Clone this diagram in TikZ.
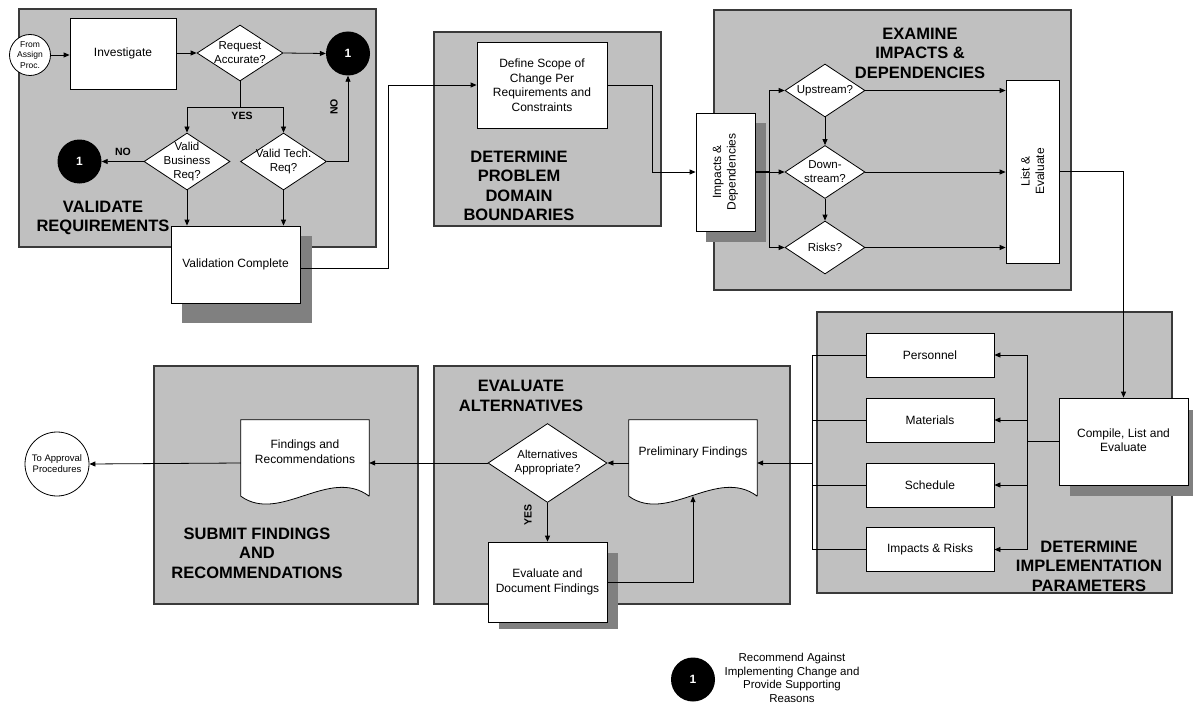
\documentclass[tikz,border=0pt]{standalone}
\usepackage{fontspec}
\setmainfont{Liberation Sans}
\usetikzlibrary{arrows.meta,shapes.geometric,calc}
\definecolor{grpfill}{HTML}{C0C0C0}
\definecolor{shadowgray}{HTML}{808080}
\definecolor{grpline}{HTML}{3A3A3A}
\newcommand{\fsz}[2]{\fontsize{#1}{#2}\selectfont}
\begin{document}
\begin{tikzpicture}[x=1pt,y=-1pt,
  grp/.style={fill=grpfill,draw=grpline,line width=1.2pt},
  shad/.style={fill=shadowgray},
  pbox/.style={draw,fill=white,line width=0.8pt,inner sep=0pt,align=center,font=\fsz{12}{14.5}},
  dia/.style={diamond,draw,fill=white,line width=0.8pt,inner sep=0pt},
  dtext/.style={inner sep=0pt,align=center,font=\fsz{11.5}{14}},
  onec/.style={circle,fill=black,text=white,minimum size=44pt,inner sep=0pt,font=\bfseries\fsz{12}{14}},
  smallc/.style={circle,draw,fill=white,line width=0.8pt,inner sep=0pt,align=center,font=\fsz{8.5}{10.5}},
  ttl/.style={align=center,inner sep=0pt,font=\bfseries\fsz{16.5}{19.5}},
  lbl/.style={inner sep=0pt,font=\bfseries\fsz{10.5}{12}},
  doc/.style={inner sep=0pt,minimum width=128pt,minimum height=76pt},
  arr/.style={-{Triangle[length=6pt,width=5pt]},line width=0.8pt},
  ln/.style={line width=0.8pt},
  thk/.style={line width=1.6pt}]
\useasboundingbox (0,0) rectangle (1193,706);

% group boxes
\draw[grp] (19,9) rectangle (376,247);
\draw[grp] (434,32) rectangle (661,226);
\draw[grp] (714,10) rectangle (1071,290);
\draw[grp] (817,312) rectangle (1172,593);
\draw[grp] (434,366) rectangle (790,604);
\draw[grp] (154,366) rectangle (418,604);

% titles
\node[ttl] (t1) at (103,218) {VALIDATE\\REQUIREMENTS};
\node[ttl] (t2) at (519,186) {DETERMINE\\PROBLEM\\DOMAIN\\BOUNDARIES};
\node[ttl] (t3) at (920,53) {EXAMINE\\IMPACTS \&\\DEPENDENCIES};
\node[ttl] (t4) at (1089,566) {DETERMINE\\IMPLEMENTATION\\PARAMETERS};
\node[ttl] (t5) at (521,396) {EVALUATE\\ALTERNATIVES};
\node[ttl] (t6) at (257,553) {SUBMIT FINDINGS\\AND\\RECOMMENDATIONS};

% shadows
\fill[shad] (182,236) rectangle (312,323);
\fill[shad] (706,123) rectangle (766,242);
\fill[shad] (1070,410) rectangle (1193,496);
\fill[shad] (499,553) rectangle (618,629);

% ---- group 1
\node[smallc,minimum size=41pt] (fa) at (30,55) {From\\Assign\\Proc.};
\node[pbox,minimum width=106pt,minimum height=71pt] (inv) at (123,53.5) {Investigate};
\node[dia,minimum width=86pt,minimum height=56pt] (ra) at (240,53) {};
\node[dtext] (rat) at (ra) {Request\\Accurate?};
\node[onec] (c1a) at (348,53.5) {1};
\node[dia,minimum width=86pt,minimum height=57pt] (vb) at (187,161.5) {};
\node[dtext] (vbt) at (vb) {Valid\\Business\\Req?};
\node[dia,minimum width=86pt,minimum height=57pt] (vt) at (283.5,161.5) {};
\node[dtext] (vtt) at (vt) {Valid Tech.\\Req?};
\node[onec] (c1b) at (79.5,161.5) {1};
\node[pbox,minimum width=129pt,minimum height=77pt] (vc) at (235.5,264.5) {Validation Complete};

% ---- group 2
\node[pbox,minimum width=130pt,minimum height=86pt,font=\fsz{12}{14.5}] (ds) at (542,85) {Define Scope of\\Change Per\\Requirements and\\Constraints};

% ---- group 3
\node[pbox,minimum width=59pt,minimum height=118pt] (imp) at (725.5,172) {};
\node[pbox,draw=none,fill=none,rotate=90] (impt) at (imp) {Impacts \&\\Dependencies};
\node[dia,minimum width=80pt,minimum height=53pt] (up) at (825,90.5) {};
\node[dtext] (upt) at (up) {Upstream?};
\node[dia,minimum width=80pt,minimum height=53pt] (dn) at (825,172) {};
\node[dtext] (dnt) at (dn) {Down-\\stream?};
\node[dia,minimum width=80pt,minimum height=53pt] (rk) at (825,247.5) {};
\node[dtext] (rkt) at (rk) {Risks?};
\node[pbox,minimum width=53pt,minimum height=183pt] (le) at (1032.5,171.5) {};
\node[pbox,draw=none,fill=none,rotate=90] (let) at (le) {List \&\\Evaluate};

% ---- group 4
\node[pbox,minimum width=128pt,minimum height=44pt] (pe) at (930,355) {Personnel};
\node[pbox,minimum width=128pt,minimum height=44pt] (ma) at (930,420) {Materials};
\node[pbox,minimum width=128pt,minimum height=44pt] (sc) at (930,485) {Schedule};
\node[pbox,minimum width=128pt,minimum height=44pt] (ir) at (930,549.5) {Impacts \& Risks};
\node[pbox,minimum width=129pt,minimum height=87pt] (ce) at (1123.5,441.5) {};
\node[pbox,draw=none,fill=none] (cet) at (1123.5,440) {Compile, List and\\Evaluate};

% ---- group 5
\node[doc] (pf) at (693,458) {};
\draw[ln,fill=white] (pf.south east) -- (pf.north east) -- (pf.north west) -- (pf.south west)
  .. controls +(39,28) and +(-40,-30) .. (pf.south east);
\node[pbox,draw=none,fill=none] (pft) at (693,452) {Preliminary Findings};
\node[dia,minimum width=119pt,minimum height=79pt] (al) at (547.5,463) {};
\node[dtext] (alt) at (al) {Alternatives\\Appropriate?};
\node[pbox,minimum width=119pt,minimum height=80pt] (ev) at (547.5,582) {Evaluate and\\Document Findings};

% ---- group 6
\node[doc] (fr) at (305,458) {};
\draw[ln,fill=white] (fr.south east) -- (fr.north east) -- (fr.north west) -- (fr.south west)
  .. controls +(39,28) and +(-40,-30) .. (fr.south east);
\node[pbox,draw=none,fill=none] (frt) at (305,451.5) {Findings and\\Recommendations};
\node[smallc,minimum size=64pt,font=\fsz{9.5}{11}] (ap) at (57,464) {To Approval\\Procedures};

% ---- legend
\node[onec] (lg) at (693,679.5) {1};
\node[align=center,inner sep=0pt,font=\fsz{11.5}{13.5}] (lgt) at (792,678) {Recommend Against\\Implementing Change and\\Provide Supporting\\Reasons};

% ---- connectors group 1
\draw[arr] (fa.east) -- (fa.east -| inv.west);
\draw[arr] (inv.east |- ra.west) -- (ra.west);
\draw[arr] (ra.east) -- (c1a.west);
\coordinate (ys) at (240,107);
\draw[ln] (ra.south) -- (ys);
\draw[arr] (ys) -| (vb.north);
\draw[arr] (ys) -| (vt.north);
\draw[arr] (vb.west) -- (c1b.east);
\draw[arr] (vt.east) -| (c1a.south);
\draw[arr] (vb.south) -- (vb.south |- vc.north);
\draw[arr] (vt.south) -- (vt.south |- vc.north);
\node[lbl] (yes1) at (242,115.5) {YES};
\node[lbl] (no1) at (123,152) {NO};
\node[lbl,rotate=90] (no2) at (334,107) {NO};

% ---- group 1 -> group 2 -> group 3
\coordinate (j1) at (388,268);
\draw[arr] (vc.east |- j1) -- (j1) |- (ds.west);
\coordinate (j2) at (652,85);
\draw[arr] (ds.east) -- (j2) |- (imp.west);

% ---- group 3
\coordinate (sp3) at (769,172);
\draw[thk] (imp.east) -- (sp3);
\draw[arr] (sp3) |- (up.west);
\draw[arr] (sp3) -- (dn.west);
\draw[arr] (sp3) |- (rk.west);
\draw[arr] (up.south) -- (dn.north);
\draw[arr] (dn.south) -- (rk.north);
\draw[arr] (up.east) -- (up.east -| le.west);
\draw[arr] (dn.east) -- (dn.east -| le.west);
\draw[arr] (rk.east) -- (rk.east -| le.west);
\draw[arr] (le.east) -| (ce.north);

% ---- group 4
\coordinate (sp4) at (1027,441.5);
\draw[thk] (ce.west) -- (sp4);
\draw[ln] (sp4 |- pe.east) -- (sp4 |- ir.east);
\draw[arr] (sp4 |- pe.east) -- (pe.east);
\draw[arr] (sp4 |- ma.east) -- (ma.east);
\draw[arr] (sp4 |- sc.east) -- (sc.east);
\draw[arr] (sp4 |- ir.east) -- (ir.east);
\coordinate (b4) at (812,463);
\draw[ln] (b4 |- pe.west) -- (b4 |- ir.west);
\draw[ln] (pe.west) -- (b4 |- pe.west);
\draw[ln] (ma.west) -- (b4 |- ma.west);
\draw[ln] (sc.west) -- (b4 |- sc.west);
\draw[ln] (ir.west) -- (b4 |- ir.west);
\draw[arr] (b4) -- (b4 -| pf.east);

% ---- group 5
\draw[arr] (al.east -| pf.west) -- (al.east);
\draw[arr] (al.south) -- (ev.north);
\node[lbl,rotate=90] (yes2) at (528,515) {YES};
\draw[arr] (ev.east) -| (pf.south);
\draw[arr] (al.west) -- (al.west -| fr.east);

% ---- group 6
\draw[arr] (fr.west |- al.west) -- (ap.east);
\end{tikzpicture}
\end{document}
